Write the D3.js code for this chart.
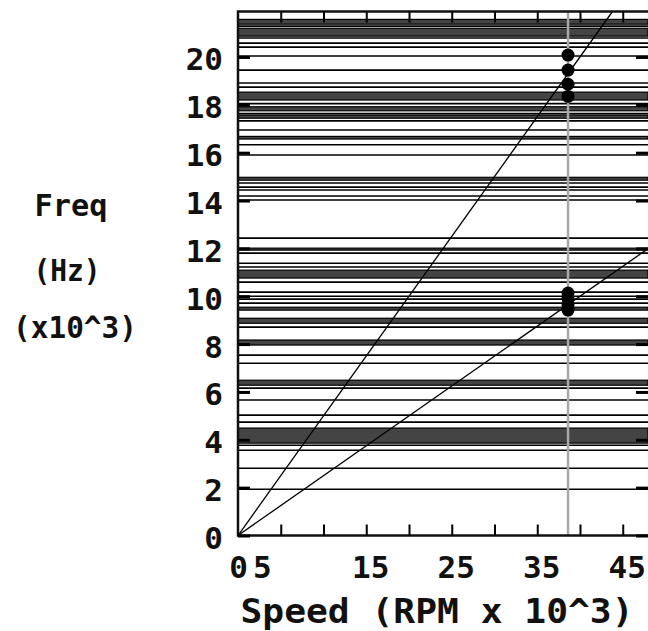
<!DOCTYPE html>
<html>
<head>
<meta charset="utf-8">
<script src="https://cdn.jsdelivr.net/npm/d3@7"></script>
<style>
  body { margin: 0; background: #fff; }
  svg { display: block; }
  .lbl { font-family: "DejaVu Sans Mono", monospace; font-weight: bold; fill: #111; }
</style>
</head>
<body>
<div id="chart"></div>
<script>
// horizontal resonance lines (kHz)
var lineFreqs = [21.29, 20.79, 20.58, 20.41, 20.04, 19.45, 18.91, 18.74, 18.05, 17.63, 17.33,
  16.95, 16.33, 15.90, 14.73, 14.56, 14.44, 14.19, 14.02, 12.43, 11.80, 11.38, 11.22, 10.59,
  10.17, 10.00, 9.88, 9.71, 8.71, 7.54, 7.20, 6.16, 5.66, 5.03, 4.74, 3.77, 3.56, 2.81, 1.93];
// dense clusters drawn as shaded bands [low, high]
var bandRanges = [[21.37, 21.57], [20.87, 21.20], [18.20, 18.53], [17.75, 17.92], [17.44, 17.57],
  [16.57, 16.68], [14.85, 14.97], [11.93, 12.01], [10.76, 11.09], [9.42, 9.54], [8.87, 9.08],
  [7.96, 8.17], [6.28, 6.49], [3.86, 4.49]];
// order lines: freq = k * speed
var orderSlopes = [0.5, 0.25];
// operating speed and measured peaks
var runSpeed = 38.6;
var peakFreqs = [20.08, 19.45, 18.86, 18.35, 10.13, 9.88, 9.63, 9.42];
var xTickValues = [0, 5, 15, 25, 35, 45];
var xTickMarks = [5, 10, 15, 20, 25, 30, 35, 40, 45];
var yTickValues = [0, 2, 4, 6, 8, 10, 12, 14, 16, 18, 20];

var W = 648, H = 631;
var x = d3.scaleLinear().domain([0, 48]).range([238, 648.4]);
var y = d3.scaleLinear().domain([0, 21.9]).range([535.5, 11.5]);
var x0 = x(0), x1 = W, yTop = y(21.9), yBot = y(0);

var svg = d3.select("#chart").append("svg")
  .attr("width", W).attr("height", H);

svg.append("defs").append("clipPath").attr("id", "plot")
  .append("rect").attr("x", x0).attr("y", yTop).attr("width", x1 - x0).attr("height", yBot - yTop);

var g = svg.append("g").attr("clip-path", "url(#plot)");

g.selectAll("rect.band").data(bandRanges).enter().append("rect")
  .attr("class", "band")
  .attr("x", x0).attr("width", x1 - x0)
  .attr("y", function(d){ return y(d[1]); })
  .attr("height", function(d){ return Math.max(2, y(d[0]) - y(d[1])); })
  .attr("fill", "#444").attr("stroke", "#000").attr("stroke-width", 1.2);

g.selectAll("line.freq").data(lineFreqs).enter().append("line")
  .attr("class", "freq")
  .attr("x1", x0).attr("x2", x1)
  .attr("y1", function(d){ return y(d); }).attr("y2", function(d){ return y(d); })
  .attr("stroke", "#000").attr("stroke-width", 1.6);

// operating speed marker
g.append("line")
  .attr("x1", x(runSpeed)).attr("x2", x(runSpeed))
  .attr("y1", yTop).attr("y2", yBot)
  .attr("stroke", "#a8a8a8").attr("stroke-width", 2.5);

g.selectAll("line.order").data(orderSlopes).enter().append("line")
  .attr("class", "order")
  .attr("x1", x(0)).attr("y1", y(0))
  .attr("x2", function(d){ return x(Math.min(48, 21.9 / d)); })
  .attr("y2", function(d){ return y(Math.min(48, 21.9 / d) * d); })
  .attr("stroke", "#000").attr("stroke-width", 1.3);

g.selectAll("circle.peak").data(peakFreqs).enter().append("circle")
  .attr("class", "peak")
  .attr("cx", x(runSpeed)).attr("cy", function(d){ return y(d); })
  .attr("r", 6.5).attr("fill", "#000");

// frame
svg.append("path")
  .attr("d", "M" + x1 + "," + yTop + "H" + x0 + "V" + yBot + "H" + x1)
  .attr("fill", "none").attr("stroke", "#111").attr("stroke-width", 2.5);

// inner tick marks on all four sides
svg.append("g").attr("transform", "translate(0," + yBot + ")")
  .call(d3.axisTop(x).tickValues(xTickMarks).tickSize(11).tickFormat(""))
  .call(function(a){ a.select(".domain").remove(); a.selectAll("line").attr("stroke-width", 2); });
svg.append("g").attr("transform", "translate(0," + yTop + ")")
  .call(d3.axisBottom(x).tickValues(xTickMarks).tickSize(11).tickFormat(""))
  .call(function(a){ a.select(".domain").remove(); a.selectAll("line").attr("stroke-width", 2); });
svg.append("g").attr("transform", "translate(" + x0 + ",0)")
  .call(d3.axisRight(y).tickValues(yTickValues).tickSize(12).tickFormat(""))
  .call(function(a){ a.select(".domain").remove(); a.selectAll("line").attr("stroke-width", 3); });
svg.append("g").attr("transform", "translate(" + x1 + ",0)")
  .call(d3.axisLeft(y).tickValues(yTickValues).tickSize(12).tickFormat(""))
  .call(function(a){ a.select(".domain").remove(); a.selectAll("line").attr("stroke-width", 3); });

// tick labels
svg.append("g").attr("transform", "translate(0," + yBot + ")")
  .call(d3.axisBottom(x).tickValues(xTickValues).tickSize(0).tickPadding(20))
  .call(function(a){
    a.select(".domain").remove();
    a.selectAll("text").attr("class", "lbl").attr("font-size", 31)
      .attr("dx", function(d){ return d === 5 ? -19 : (d === 0 ? 0 : 4); });
  });
svg.append("g").attr("transform", "translate(223,0)")
  .call(d3.axisLeft(y).tickValues(yTickValues).tickSize(0).tickPadding(0))
  .call(function(a){
    a.select(".domain").remove();
    a.selectAll("text").attr("class", "lbl").attr("font-size", 31).attr("dy", "0.42em");
  });

// axis titles
svg.append("text").attr("class", "lbl").attr("font-size", 33)
  .attr("x", 437).attr("y", 623).attr("text-anchor", "middle")
  .attr("textLength", 393).attr("lengthAdjust", "spacingAndGlyphs")
  .text("Speed (RPM x 10^3)");
svg.append("text").attr("class", "lbl").attr("font-size", 30)
  .attr("x", 71).attr("y", 216).attr("text-anchor", "middle")
  .attr("textLength", 73).attr("lengthAdjust", "spacingAndGlyphs").text("Freq");
svg.append("text").attr("class", "lbl").attr("font-size", 30)
  .attr("x", 67).attr("y", 281).attr("text-anchor", "middle")
  .attr("textLength", 67).attr("lengthAdjust", "spacingAndGlyphs").text("(Hz)");
svg.append("text").attr("class", "lbl").attr("font-size", 30)
  .attr("x", 75).attr("y", 338).attr("text-anchor", "middle")
  .attr("textLength", 124).attr("lengthAdjust", "spacingAndGlyphs").text("(x10^3)");
</script>
</body>
</html>
